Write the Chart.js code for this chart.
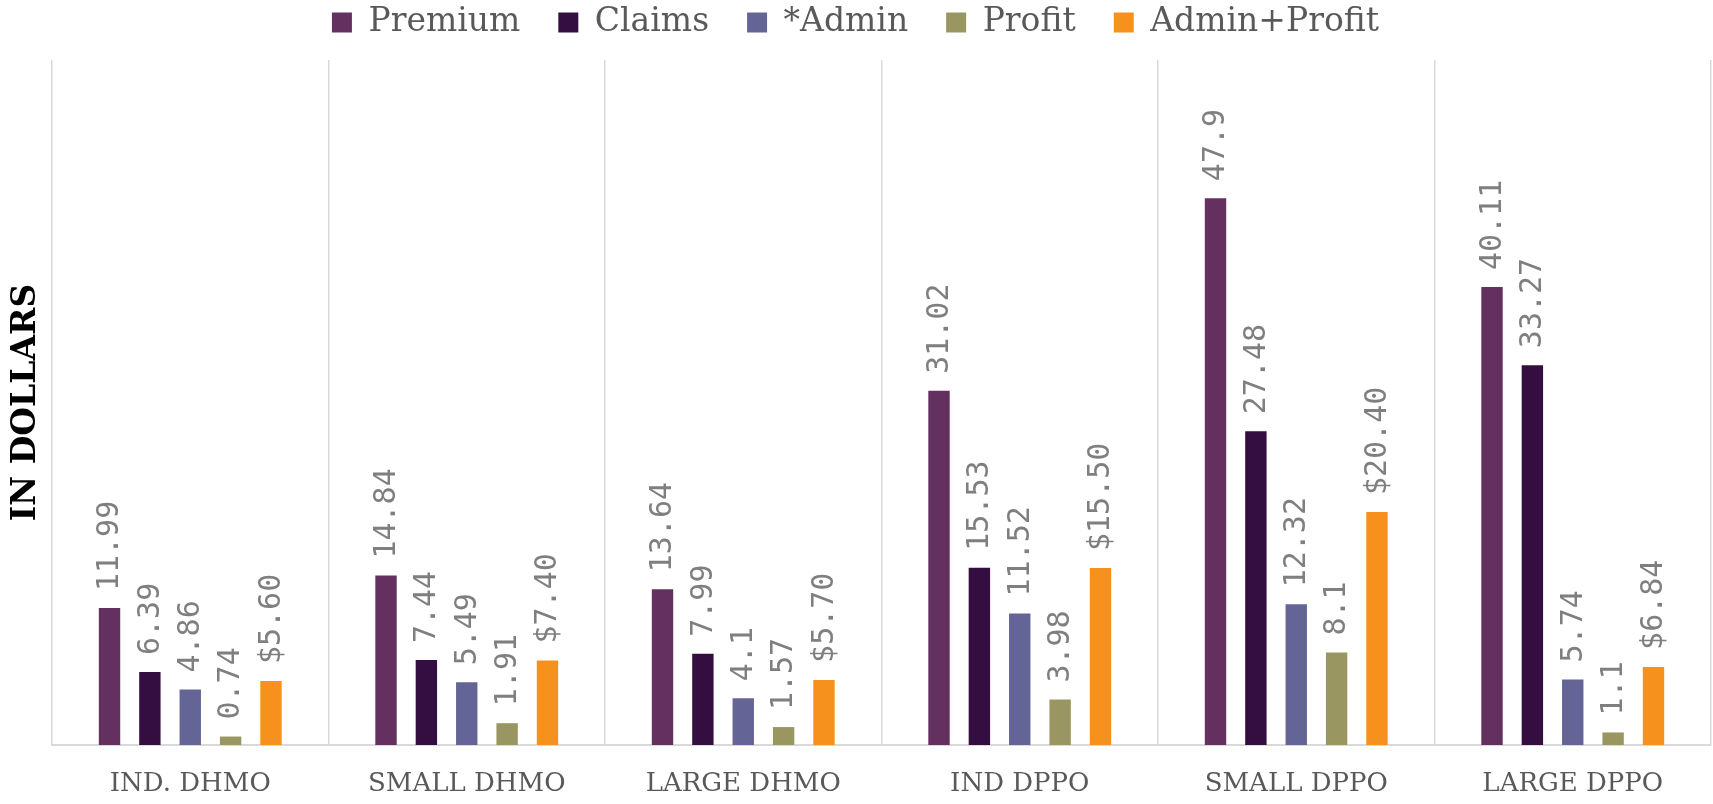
<!DOCTYPE html>
<html>
<head>
<meta charset="utf-8">
<title>Premium breakdown</title>
<script src="https://cdn.jsdelivr.net/npm/chart.js@4/dist/chart.umd.min.js"></script>
<style>
html, body { margin: 0; padding: 0; background: #ffffff; }
#wrap { width: 1713px; height: 804px; }
</style>
</head>
<body>
<div id="wrap"><canvas id="premiumChart"></canvas></div>
<script>

// ================= DATA =================

const plans = ["IND. DHMO", "SMALL DHMO", "LARGE DHMO", "IND DPPO", "SMALL DPPO", "LARGE DPPO"];

const premium = [11.99, 14.84, 13.64, 31.02, 47.9, 40.11];
const claims = [6.39, 7.44, 7.99, 15.53, 27.48, 33.27];
const admin = [4.86, 5.49, 4.1, 11.52, 12.32, 5.74];
const profit = [0.74, 1.91, 1.57, 3.98, 8.1, 1.1];
const adminProfit = [5.60, 7.40, 5.70, 15.50, 20.40, 6.84];

const yMax = 60;


// ================= PLUGINS =================

// rotated value labels above each bar
const barLabels = {
  id: "barLabels",
  afterDatasetsDraw(chart) {
    const ctx = chart.ctx;
    ctx.save();
    ctx.font = "30px 'DejaVu Sans Mono'";
    ctx.fillStyle = "#7f7f7f";
    ctx.textAlign = "left";
    ctx.textBaseline = "middle";
    chart.data.datasets.forEach((ds, i) => {
      const meta = chart.getDatasetMeta(i);
      meta.data.forEach((bar, j) => {
        const v = ds.data[j];
        const txt = ds.money ? "$" + v.toFixed(2) : String(v);
        ctx.save();
        ctx.translate(bar.x + 1, bar.y - 17);
        ctx.rotate(-Math.PI / 2);
        ctx.fillText(txt, 0, 0);
        ctx.restore();
      });
    });
    ctx.restore();
  }
};

// keep the legend strip short while items stay wide apart
const legendStrip = {
  id: "legendStrip",
  beforeLayout(chart) {
    const lg = chart.legend;
    if (lg && !lg._strip) {
      const fit = lg.fit;
      lg.fit = function () { fit.call(this); this.height = 60; };
      lg._strip = true;
    }
  },
  afterLayout(chart) {
    chart.legend.top = -32;
  }
};


// ================= CHART =================

new Chart(document.getElementById("premiumChart"), {

  type: "bar",

  data: {
    labels: plans,
    datasets: [
      { label: "Premium", data: premium, backgroundColor: "#643060" },
      { label: "Claims", data: claims, backgroundColor: "#340e40" },
      { label: "*Admin", data: admin, backgroundColor: "#646496" },
      { label: "Profit", data: profit, backgroundColor: "#999662" },
      { label: "Admin+Profit", data: adminProfit, backgroundColor: "#f7911e", money: true }
    ]
  },

  options: {
    responsive: true,
    maintainAspectRatio: false,
    animation: false,
    layout: { padding: { left: 0, right: 2, top: 0, bottom: 0 } },
    datasets: {
      bar: { categoryPercentage: 0.73, barPercentage: 0.53, borderWidth: 0 }
    },
    plugins: {
      tooltip: { enabled: false },
      legend: {
        labels: {
          color: "#595959",
          font: { family: "'DejaVu Serif'", size: 33 },
          boxWidth: 20,
          boxHeight: 20,
          padding: 38
        }
      }
    },
    scales: {
      x: {
        grid: { color: "#d9d9d9", lineWidth: 1.5, drawTicks: false, offset: true },
        border: { color: "#d9d9d9", width: 2 },
        ticks: {
          color: "#595959",
          font: { family: "'DejaVu Serif'", size: 26 },
          padding: 24
        },
        afterFit(scale) { scale.height = 59; }
      },
      y: {
        min: 0,
        max: yMax,
        grid: { display: false },
        border: { display: false },
        ticks: { display: false },
        title: {
          display: true,
          text: "IN DOLLARS",
          color: "#000000",
          font: { family: "'DejaVu Serif'", size: 33, weight: "bold" },
          padding: { top: 7, bottom: 0 }
        },
        afterFit(scale) { scale.width = 52; }
      }
    }
  },

  plugins: [barLabels, legendStrip]

});

</script>
</body>
</html>
